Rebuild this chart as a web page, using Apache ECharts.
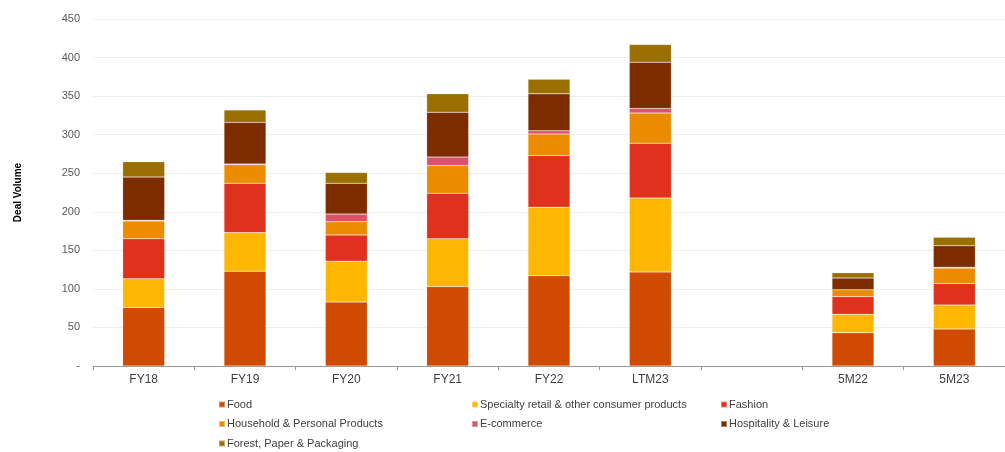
<!DOCTYPE html>
<html>
<head>
<meta charset="utf-8">
<script src="https://cdn.jsdelivr.net/npm/echarts@6/dist/echarts.min.js"></script>
<style>
  html, body { margin: 0; padding: 0; background: #fff; }
  #chart { width: 1005px; height: 452px; }
</style>
</head>
<body>
<div id="chart"></div>
<script>
// categories (blank slot between LTM23 and 5M22, like the source)
const categories = ["FY18", "FY19", "FY20", "FY21", "FY22", "LTM23", "", "5M22", "5M23"];

// deal volume per sector
const food        = [76, 123, 83, 103, 117, 122, null, 43, 48];
const specialty   = [37, 50, 53, 62, 89, 96, null, 24, 31];
const fashion     = [52, 64, 34, 59, 67, 71, null, 23, 28];
const household   = [23, 24, 17, 36, 28, 39, null, 9, 20];
const ecommerce   = [1, 1, 10, 11, 4, 6, null, 0, 1];
const hospitality = [56, 54, 40, 58, 48, 60, null, 15, 28];
const forest      = [20, 16, 14, 24, 19, 23, null, 7, 11];

const seriesList = [
  { name: "Food", data: food, color: "#D04A02" },
  { name: "Specialty retail & other consumer products", data: specialty, color: "#FFB600" },
  { name: "Fashion", data: fashion, color: "#E0301E" },
  { name: "Household & Personal Products", data: household, color: "#EB8C00" },
  { name: "E-commerce", data: ecommerce, color: "#DB536A" },
  { name: "Hospitality & Leisure", data: hospitality, color: "#7D2C00" },
  { name: "Forest, Paper & Packaging", data: forest, color: "#9A6F00" }
];

const chart = echarts.init(document.getElementById("chart"));

// legend in three fixed columns
const legendBase = {
  orient: "vertical",
  top: 393,
  height: 56,
  itemWidth: 6,
  itemHeight: 6,
  itemGap: 6.5,
  icon: "rect",
  selectedMode: false,
  textStyle: { fontFamily: "Liberation Sans", fontSize: 11, color: "#404040", padding: [0, 0, 0, -3], lineHeight: 13 }
};

chart.setOption({
  animation: false,
  grid: { left: 93, right: -13, top: 19, bottom: 86 },
  legend: [
    Object.assign({}, legendBase, { left: 213, data: ["Food", "Household & Personal Products", "Forest, Paper & Packaging"] }),
    Object.assign({}, legendBase, { left: 466, data: ["Specialty retail & other consumer products", "E-commerce"] }),
    Object.assign({}, legendBase, { left: 715, data: ["Fashion", "Hospitality & Leisure"] })
  ],
  xAxis: {
    type: "category",
    data: categories,
    axisLine: { lineStyle: { color: "#999", width: 1 } },
    axisTick: { show: true, length: 4, lineStyle: { color: "#999" } },
    axisLabel: { fontFamily: "Liberation Sans", fontSize: 12, color: "#404040", margin: 8 }
  },
  yAxis: {
    type: "value",
    min: 0,
    max: 450,
    interval: 50,
    name: "Deal Volume",
    nameLocation: "middle",
    nameRotate: 90,
    nameGap: 70,
    nameTextStyle: { fontFamily: "Liberation Sans", fontSize: 10, fontWeight: "bold", color: "#000" },
    axisLine: { show: false },
    axisTick: { show: false },
    axisLabel: {
      fontFamily: "Liberation Sans",
      fontSize: 11,
      color: "#595959",
      margin: 13,
      formatter: v => (v === 0 ? "-" : v)
    },
    splitLine: { lineStyle: { color: "#eeeeee", width: 1 } }
  },
  series: seriesList.map(s => ({
    name: s.name,
    type: "bar",
    stack: "total",
    barWidth: 42,
    data: s.data,
    itemStyle: { color: s.color, borderColor: "rgba(255,255,255,0.4)", borderWidth: 0.5 }
  }))
});
</script>
</body>
</html>
